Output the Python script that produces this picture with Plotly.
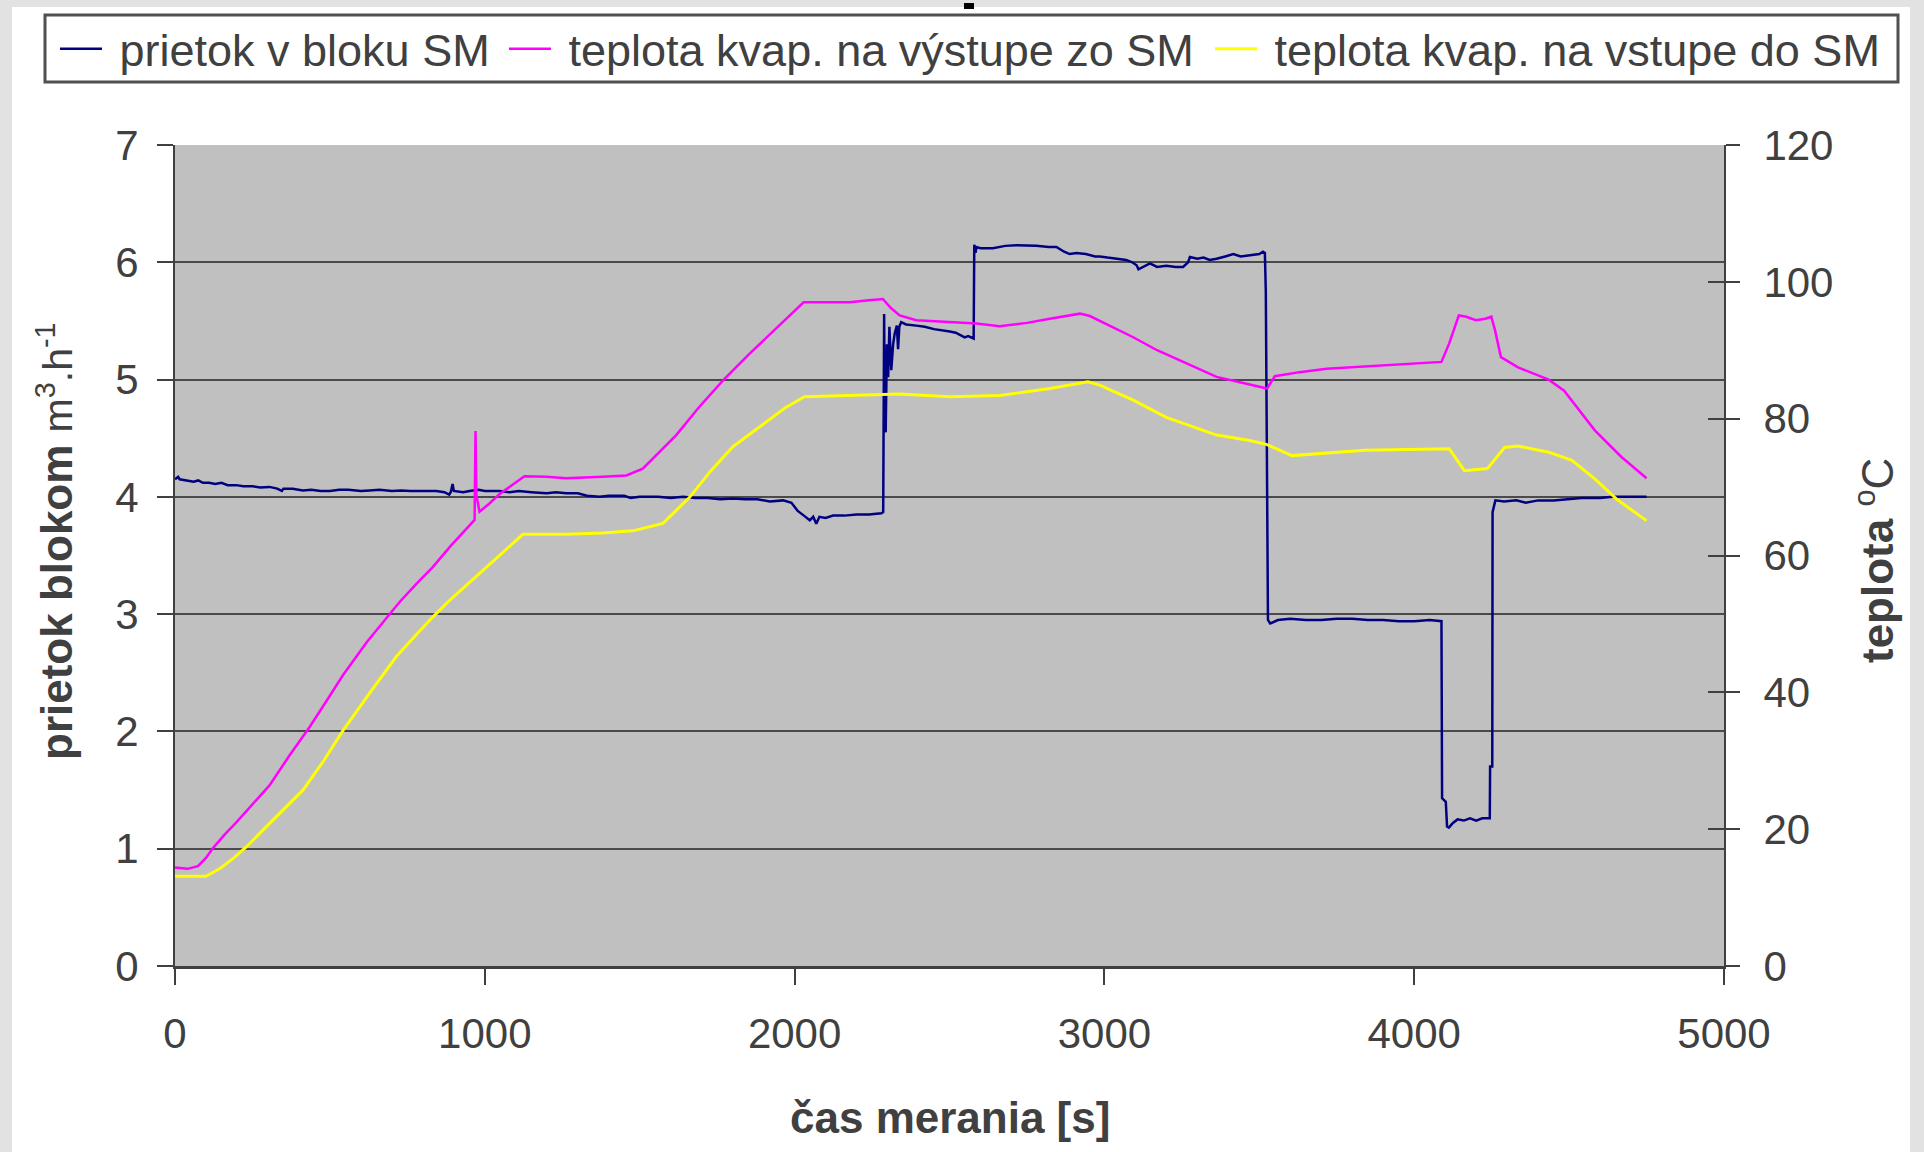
import plotly.graph_objects as go

# --- measured series -------------------------------------------------------
# flow through the block [m3/h]
flow_t = [0, 10, 15, 40, 60, 75, 90, 110, 130, 150, 170, 198, 220, 250, 275, 305,
          330, 345, 350, 380, 413, 440, 470, 500, 530, 560, 600, 628, 660, 700,
          730, 760, 800, 843, 870, 885, 890, 896, 900, 930, 951, 980, 1000, 1048,
          1080, 1110, 1150, 1200, 1230, 1263, 1300, 1330, 1371, 1400, 1450, 1470,
          1500, 1560, 1600, 1640, 1680, 1720, 1760, 1801, 1840, 1880, 1920, 1963,
          1990, 2010, 2030, 2049, 2060, 2070, 2080, 2100, 2124, 2160, 2200, 2240,
          2280, 2286, 2289, 2291, 2294, 2298, 2302, 2306, 2312, 2318, 2323, 2330,
          2334, 2338, 2344, 2360, 2393, 2420, 2450, 2480, 2501, 2520, 2549, 2560,
          2578, 2580, 2584, 2587, 2600, 2640, 2680, 2716, 2780, 2820, 2845, 2870,
          2888, 2910, 2940, 2970, 2985, 3010, 3039, 3070, 3090, 3104, 3110, 3125,
          3147, 3170, 3200, 3230, 3254, 3270, 3276, 3300, 3320, 3340, 3362, 3390,
          3416, 3440, 3470, 3500, 3512, 3518, 3521, 3528, 3535, 3560, 3600, 3650,
          3700, 3750, 3800, 3850, 3900, 3950, 4000, 4050, 4088, 4090, 4102, 4106,
          4112, 4125, 4140, 4160, 4180, 4200, 4220, 4244, 4245, 4252, 4253, 4262,
          4290, 4330, 4360, 4400, 4450, 4500, 4540, 4600, 4640, 4700, 4750]
flow_v = [4.15, 4.17, 4.15, 4.14, 4.13, 4.14, 4.12, 4.12, 4.11, 4.12, 4.10, 4.10,
          4.09, 4.09, 4.08, 4.085, 4.07, 4.05, 4.07, 4.07, 4.055, 4.06, 4.05, 4.05,
          4.06, 4.06, 4.05, 4.055, 4.06, 4.05, 4.055, 4.05, 4.05, 4.05, 4.04, 4.02,
          4.04, 4.11, 4.05, 4.04, 4.05, 4.06, 4.05, 4.05, 4.04, 4.05, 4.04, 4.03,
          4.04, 4.03, 4.03, 4.01, 4.00, 4.01, 4.01, 3.99, 4.00, 4.00, 3.99, 4.00,
          3.99, 3.99, 3.98, 3.985, 3.98, 3.98, 3.96, 3.97, 3.95, 3.88, 3.84, 3.80,
          3.83, 3.77, 3.83, 3.82, 3.84, 3.84, 3.85, 3.85, 3.86, 3.87, 5.56, 4.60,
          4.55, 5.30, 5.02, 5.45, 5.08, 5.30, 5.39, 5.46, 5.26, 5.45, 5.49, 5.47,
          5.46, 5.45, 5.43, 5.42, 5.41, 5.40, 5.36, 5.37, 5.35, 6.15, 6.08, 6.13,
          6.12, 6.12, 6.14, 6.145, 6.14, 6.13, 6.13, 6.09, 6.07, 6.08, 6.07, 6.05,
          6.05, 6.04, 6.03, 6.02, 6.00, 5.975, 5.94, 5.96, 5.99, 5.96, 5.97, 5.96,
          5.96, 6.00, 6.045, 6.03, 6.04, 6.02, 6.03, 6.05, 6.07, 6.05, 6.06, 6.07,
          6.09, 6.08, 5.75, 2.95, 2.92, 2.95, 2.96, 2.95, 2.95, 2.96, 2.96, 2.95,
          2.95, 2.94, 2.94, 2.95, 2.94, 1.43, 1.40, 1.19, 1.18, 1.22, 1.25, 1.24,
          1.26, 1.24, 1.26, 1.26, 1.70, 1.70, 3.87, 3.97, 3.96, 3.97, 3.95, 3.97,
          3.97, 3.98, 3.99, 3.99, 4.00, 4.00, 4.00]

# liquid temperature at the outlet of SM [degC]
t_out_t = [0, 40, 74, 100, 122, 160, 198, 250, 305, 370, 434, 490, 542, 620, 693,
           725, 780, 832, 890, 951, 967, 970, 973, 983, 1015, 1048, 1090, 1128,
           1200, 1263, 1380, 1457, 1510, 1560, 1618, 1690, 1769, 1850, 1950, 2029,
           2100, 2178, 2240, 2285, 2310, 2339, 2393, 2500, 2587, 2662, 2750, 2824,
           2921, 2953, 3020, 3093, 3170, 3254, 3362, 3469, 3525, 3550, 3630, 3717,
           3900, 4088, 4113, 4144, 4168, 4199, 4230, 4249, 4261, 4280, 4335, 4434,
           4484, 4530, 4583, 4669, 4750]
t_out_v = [14.4, 14.2, 14.6, 15.8, 17.2, 19.2, 21.0, 23.6, 26.4, 30.8, 34.9, 38.8,
           42.5, 47.4, 51.5, 53.2, 55.9, 58.3, 61.4, 64.4, 65.2, 78.2, 68.8, 66.4,
           67.6, 69.0, 70.4, 71.6, 71.5, 71.3, 71.5, 71.7, 72.7, 74.9, 77.6, 81.6,
           85.6, 89.3, 93.6, 97.0, 97.0, 97.0, 97.3, 97.5, 96.2, 95.1, 94.4, 94.1,
           93.9, 93.5, 94.0, 94.6, 95.35, 95.0, 93.5, 91.9, 90.0, 88.3, 86.1, 85.0,
           84.4, 86.2, 86.8, 87.3, 87.8, 88.3, 91.0, 95.1, 94.9, 94.4, 94.6, 94.9,
           92.9, 89.0, 87.5, 85.7, 84.1, 81.4, 78.3, 74.4, 71.3]

# liquid temperature at the inlet of SM [degC]
t_in_t = [0, 100, 144, 190, 230, 320, 413, 480, 542, 630, 714, 780, 832, 890, 951,
          994, 1060, 1123, 1263, 1380, 1478, 1575, 1661, 1730, 1801, 1909, 1970,
          2032, 2232, 2339, 2501, 2662, 2824, 2947, 2985, 3093, 3200, 3362, 3469,
          3523, 3605, 3841, 4113, 4162, 4236, 4292, 4335, 4434, 4509, 4583, 4657,
          4750]
t_in_v = [13.1, 13.1, 14.2, 15.8, 17.4, 21.5, 25.7, 30.0, 34.4, 40.0, 45.2, 48.5,
          51.0, 53.6, 56.1, 57.8, 60.6, 63.1, 63.1, 63.3, 63.6, 64.7, 68.5, 72.4,
          75.9, 79.5, 81.6, 83.2, 83.4, 83.6, 83.2, 83.4, 84.4, 85.4, 84.9, 82.7,
          80.2, 77.6, 76.8, 76.25, 74.6, 75.4, 75.6, 72.4, 72.7, 75.8, 76.0, 75.1,
          73.9, 71.2, 68.1, 65.1]

series_names = ["prietok v bloku SM",
                "teplota kvap. na výstupe zo SM",
                "teplota kvap. na vstupe do SM"]

x_ticks = [0, 1000, 2000, 3000, 4000, 5000]
flow_ticks = [0, 1, 2, 3, 4, 5, 6, 7]
temp_ticks = [0, 20, 40, 60, 80, 100, 120]

FONT = "Liberation Sans, Arial, sans-serif"
INK = "#404040"
W, H = 1924, 1152
L, R, T, B = 175, 200, 145, 186
PW, PH = W - L - R, H - T - B


def px_x(p):
    return (p - L) / PW


def px_y(p):
    return (H - B - p) / PH


fig = go.Figure()
fig.add_trace(go.Scatter(x=flow_t, y=flow_v, name="\u00a0" + series_names[0],
                         mode="lines", line=dict(color="#000080", width=2.5),
                         yaxis="y", legend="legend"))
fig.add_trace(go.Scatter(x=t_out_t, y=t_out_v, name="\u00a0" + series_names[1],
                         mode="lines", line=dict(color="#FF00FF", width=2.5),
                         yaxis="y2", legend="legend2"))
fig.add_trace(go.Scatter(x=t_in_t, y=t_in_v, name="\u00a0" + series_names[2],
                         mode="lines", line=dict(color="#FFFF00", width=3),
                         yaxis="y3", legend="legend3"))

axis_common = dict(tickfont=dict(family=FONT, size=42, color=INK),
                   tickcolor=INK, tickwidth=2, zeroline=False)


def legend_at(x_px):
    return dict(orientation="h", xref="container", yref="container",
                x=x_px / W, y=1 - 49 / H, xanchor="left", yanchor="middle",
                bgcolor="rgba(0,0,0,0)", borderwidth=0,
                font=dict(family=FONT, size=45, color=INK), itemwidth=42)


fig.update_layout(
    width=W, height=H,
    margin=dict(l=L, r=R, t=T, b=B, autoexpand=False),
    paper_bgcolor="white",
    plot_bgcolor="#C0C0C0",
    showlegend=True,
    legend=legend_at(55),
    legend2=legend_at(504),
    legend3=legend_at(1210),
    xaxis=dict(range=[0, 5000], tickvals=x_ticks, ticks="outside", ticklen=16,
               showgrid=False, showline=True, linecolor=INK, linewidth=3,
               ticklabelstandoff=13, **axis_common),
    yaxis=dict(range=[0, 7], tickvals=flow_ticks, ticks="outside", ticklen=16,
               showgrid=True, gridcolor="#4a4a4a", gridwidth=2,
               showline=True, linecolor=INK, linewidth=2,
               ticklabelstandoff=10, **axis_common),
    yaxis2=dict(range=[0, 120], tickvals=temp_ticks, ticks="outside", ticklen=14,
                overlaying="y", side="right", anchor="x",
                showgrid=False, showline=True, linecolor=INK, linewidth=2,
                ticklabelstandoff=15, **axis_common),
    yaxis3=dict(range=[0, 120], tickvals=temp_ticks, ticks="inside", ticklen=16,
                overlaying="y", side="right", anchor="x",
                showgrid=False, showline=False, showticklabels=False,
                tickcolor=INK, tickwidth=2, zeroline=False),
)

# axis titles
fig.add_annotation(text="<b>čas merania [s]</b>", xref="paper", yref="paper",
                   x=0.5, y=px_y(1117), xanchor="center", yanchor="middle",
                   showarrow=False, font=dict(family=FONT, size=44, color=INK))
fig.add_annotation(text='<b>prietok blokom</b> <span style="font-size:41px">m<sup>3</sup>.h<sup>-1</sup></span>',
                   xref="paper", yref="paper", x=px_x(55), y=px_y(542),
                   xanchor="center", yanchor="middle", textangle=-90,
                   showarrow=False, font=dict(family=FONT, size=44, color=INK))
fig.add_annotation(text="<b>teplota</b> <sup>o</sup>C",
                   xref="paper", yref="paper", x=px_x(1874), y=px_y(561),
                   xanchor="center", yanchor="middle", textangle=-90,
                   showarrow=False, font=dict(family=FONT, size=44, color=INK))

# light grey page frame, legend box and the small dash at the top
frame = "#e2e2e2"
for x0, x1, y0, y1 in [(0, 12, 0, H), (1910, W, 0, H), (0, W, 0, 7)]:
    fig.add_shape(type="rect", xref="paper", yref="paper", layer="below",
                  x0=px_x(x0), x1=px_x(x1), y0=px_y(y1), y1=px_y(y0),
                  line=dict(width=0), fillcolor=frame)
fig.add_shape(type="rect", xref="paper", yref="paper", layer="below",
              x0=px_x(45), x1=px_x(1898), y0=px_y(82), y1=px_y(15),
              line=dict(color="#505050", width=3), fillcolor="white")
fig.add_shape(type="rect", xref="paper", yref="paper",
              x0=px_x(964), x1=px_x(974), y0=px_y(9), y1=px_y(3),
              line=dict(width=0), fillcolor="black")

fig.write_html("out.html")
